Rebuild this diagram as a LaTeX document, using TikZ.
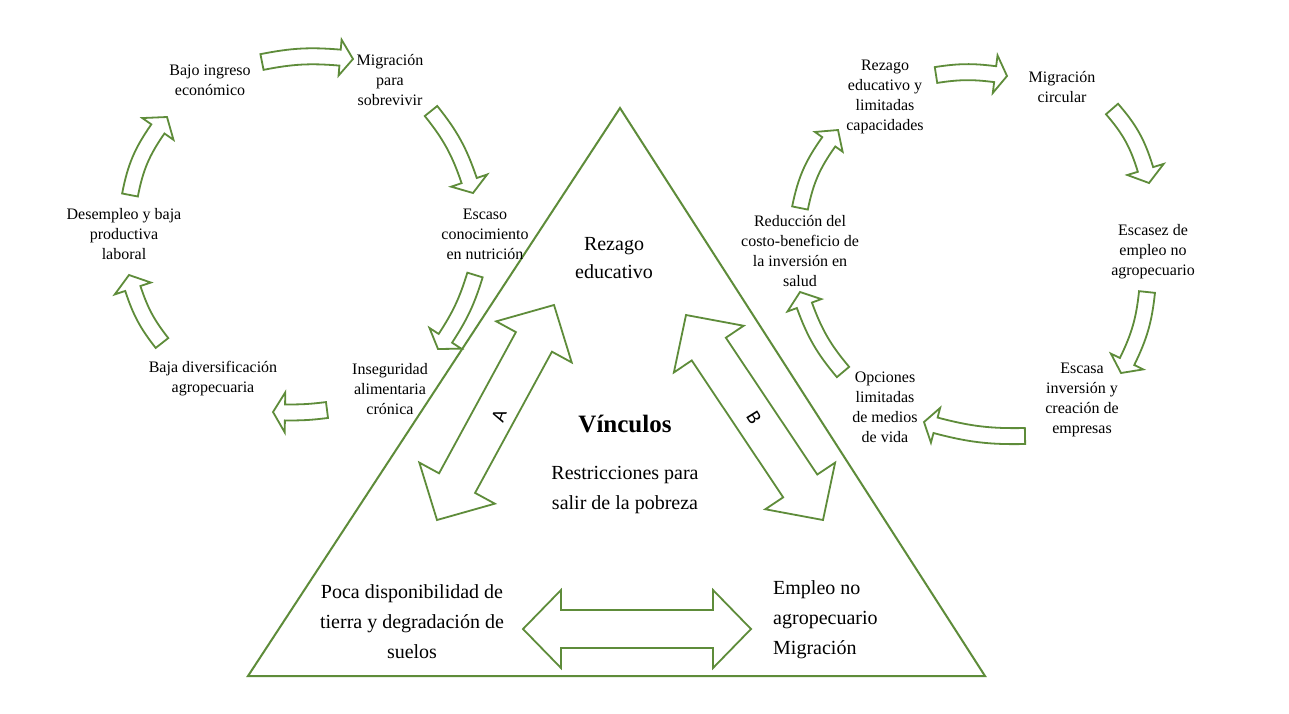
\documentclass[tikz,border=0pt]{standalone}
\usepackage{fontspec}
\setmainfont{Liberation Serif}
\newfontfamily\labfont{Carlito}
\usetikzlibrary{calc}
\definecolor{gr}{RGB}{94,140,58}
\tikzset{
  outl/.style={draw=gr, line width=1.8pt, line join=miter},
  small/.style={align=center, font=\fontsize{16}{20}\selectfont, inner sep=0pt},
  big/.style={align=center, font=\fontsize{20}{30}\selectfont, inner sep=0pt},
  lab/.style={font=\labfont\fontsize{20}{22}\selectfont, inner sep=0pt}
}
% curved block arrow: #1 tail, #2 tip, #3 bend, #4 half shaft, #5 half head, #6 head length
\newcommand\cyclearrow[6]{%
  \pgfmathsetmacro\bA{#3+90}%
  \pgfmathsetmacro\bB{-#3-90}%
  \pgfmathsetmacro\bC{90-#3}%
  \pgfmathsetmacro\bD{#3-90}%
  \pgfmathsetmacro\bE{-#3}%
  \coordinate (ab) at ($(#2)!#6pt!\bE:(#1)$);
  \draw[outl] ($(#1)!#4pt!\bA:(ab)$) to[bend left=#3] ($(ab)!#4pt!\bB:(#1)$)
    -- ($(ab)!#5pt!\bB:(#1)$) -- (#2) -- ($(ab)!#5pt!\bC:(#1)$)
    -- ($(ab)!#4pt!\bC:(#1)$) to[bend right=#3] ($(#1)!#4pt!\bD:(ab)$) -- cycle;
}
% straight double block arrow: #1 tip1, #2 tip2, #3 half shaft, #4 half head, #5 head length
\newcommand\dblarrow[5]{%
  \coordinate (da) at ($(#1)!#5pt!(#2)$);
  \coordinate (db) at ($(#2)!#5pt!(#1)$);
  \draw[outl] (#1) -- ($(da)!#4pt!90:(#2)$) -- ($(da)!#3pt!90:(#2)$)
    -- ($(db)!#3pt!-90:(#1)$) -- ($(db)!#4pt!-90:(#1)$) -- (#2)
    -- ($(db)!#4pt!90:(#1)$) -- ($(db)!#3pt!90:(#1)$)
    -- ($(da)!#3pt!-90:(#2)$) -- ($(da)!#4pt!-90:(#2)$) -- cycle;
}
\begin{document}
\begin{tikzpicture}[x=1pt,y=-1pt]
\useasboundingbox (0,0) rectangle (1289,713);
\fill[white] (0,0) rectangle (1289,713);

% triangle
\coordinate (tA) at (620,108);
\coordinate (tB) at (985,676);
\coordinate (tC) at (248,676);
\draw[outl, line width=2pt] (tA) -- (tB) -- (tC) -- cycle;

% texts of the left cycle
\node[small] (bajo) at (210,80) {Bajo ingreso\\económico};
\node[small] (migr) at (390,80) {Migración\\para\\sobrevivir};
\node[small] (esca) at (485,234) {Escaso\\conocimiento\\en nutrición};
\node[small] (inse) at (390,389) {Inseguridad\\alimentaria\\crónica};
\node[small] (bdiv) at (213,379) {Baja diversificación\\agropecuaria};
\node[small] (dese) at (124,234) {Desempleo y baja\\productiva\\laboral};

% texts of the right cycle
\node[small] (reze) at (885,97) {Rezago\\educativo y\\limitadas\\capacidades};
\node[small] (migc) at (1062,87) {Migración\\circular};
\node[small] (escz) at (1153,252) {Escasez de\\empleo no\\agropecuario};
\node[small] (escs) at (1082,400) {Escasa\\inversión y\\creación de\\empresas};
\node[small] (opci) at (885,407) {Opciones\\limitadas\\de medios\\de vida};
\node[small] (redu) at (800,251) {Reducción del\\costo-beneficio de\\la inversión en\\salud};

% texts in the triangle
\node[big, font=\fontsize{20}{28}\selectfont] (rez) at (614,258) {Rezago\\educativo};
\node[inner sep=0pt, font=\bfseries\fontsize{25}{30}\selectfont] (vin) at (625,424) {Vínculos};
\node[big] (res) at (625,490) {Restricciones para\\salir de la pobreza};
\node[big] (poca) at (412,622) {Poca disponibilidad de\\tierra y degradación de\\suelos};
\node[big, align=left, anchor=west] (empl) at (773,620) {Empleo no\\agropecuario\\Migración};
\node[lab, rotate=70] (la) at (499,416) {A};
\node[lab, rotate=-58] (lb) at (754,418) {B};

% left cycle arrows
\coordinate (l1t) at (262,62);  \coordinate (l1p) at (353,59);
\coordinate (l2t) at (431,111); \coordinate (l2p) at (473,193);
\coordinate (l3t) at (475,275); \coordinate (l3p) at (438,349);
\coordinate (l4t) at (327,410); \coordinate (l4p) at (273,412);
\coordinate (l5t) at (162,343); \coordinate (l5p) at (129,275);
\coordinate (l6t) at (130,195); \coordinate (l6p) at (167,117);
\cyclearrow{l1t}{l1p}{8}{8}{18}{13}
\cyclearrow{l2t}{l2p}{10}{8}{19}{13}
\cyclearrow{l3t}{l3p}{8}{8}{19}{13}
\cyclearrow{l4t}{l4p}{4}{8}{20}{12}
\cyclearrow{l5t}{l5p}{10}{8}{19}{14}
\cyclearrow{l6t}{l6p}{12}{8}{19}{15}

% right cycle arrows
\coordinate (r1t) at (936,75);   \coordinate (r1p) at (1007,76);
\coordinate (r2t) at (1112,109); \coordinate (r2p) at (1149,183);
\coordinate (r3t) at (1147,292); \coordinate (r3p) at (1121,373);
\coordinate (r4t) at (1025,436); \coordinate (r4p) at (924,422);
\coordinate (r5t) at (843,372);  \coordinate (r5p) at (800,292);
\coordinate (r6t) at (800,208);  \coordinate (r6p) at (838,130);
\cyclearrow{r1t}{r1p}{8}{8}{19}{12}
\cyclearrow{r2t}{r2p}{12}{8}{19}{14}
\cyclearrow{r3t}{r3p}{10}{8}{18}{13}
\cyclearrow{r4t}{r4p}{8}{8}{18}{12}
\cyclearrow{r5t}{r5p}{10}{8}{18}{14}
\cyclearrow{r6t}{r6p}{12}{8}{17}{15}

% double arrows inside triangle
\coordinate (a1) at (554,305); \coordinate (a2) at (437,520);
\coordinate (b1) at (686,315); \coordinate (b2) at (823,520);
\coordinate (h1) at (523,629); \coordinate (h2) at (751,629);
\dblarrow{a1}{a2}{20.5}{43}{42}
\dblarrow{b1}{b2}{20.5}{42}{41}
\dblarrow{h1}{h2}{19}{39}{38}
\end{tikzpicture}
\end{document}
